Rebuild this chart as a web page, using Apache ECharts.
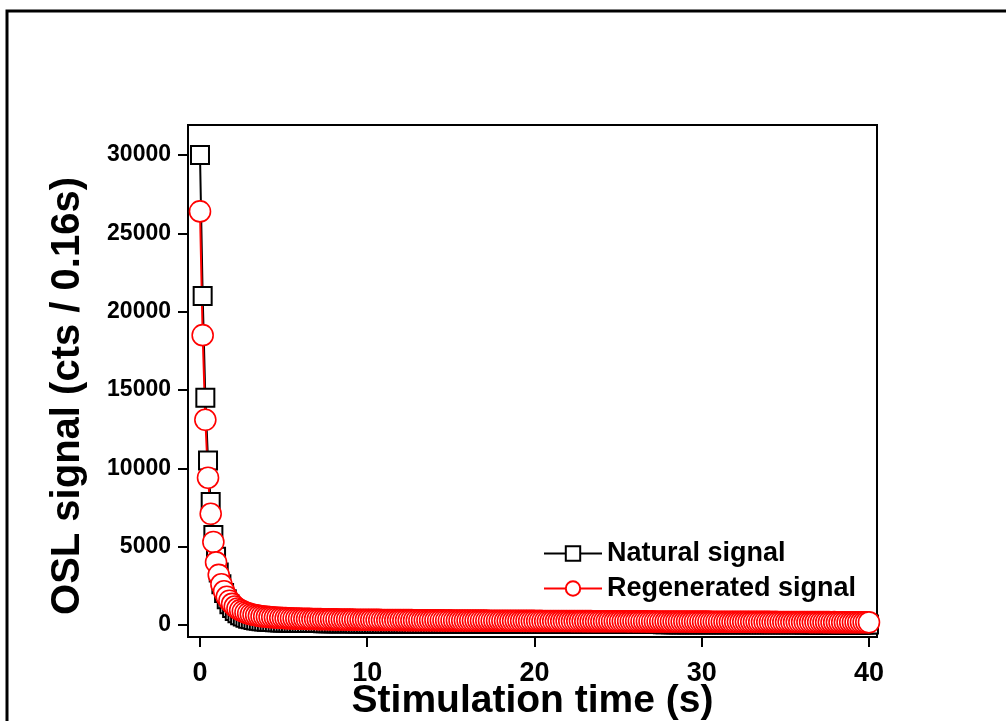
<!DOCTYPE html>
<html>
<head>
<meta charset="utf-8">
<script src="https://cdn.jsdelivr.net/npm/echarts@6/dist/echarts.min.js"></script>
<style>html,body{margin:0;padding:0;background:#fff}#c{width:1006px;height:721px}</style>
</head>
<body>
<div id="c"></div>
<script>
// Channel width of the OSL measurement (s)
const channelWidth = 0.16;
const xTicks = [0, 10, 20, 30, 40];
const yTicks = [0, 5000, 10000, 15000, 20000, 25000, 30000];
const seriesNames = ['Natural signal', 'Regenerated signal'];

const naturalSignal = [
  30000, 21000, 14500, 10500, 7850, 5750, 4350, 3350, 2600, 2050, 1650, 1330, 1090, 900, 750, 630, 540, 465, 405, 360, 320, 290, 265, 245, 228, 213, 200, 190, 181, 173,
  166, 161, 155, 152, 147, 144, 140, 138, 134, 133, 129, 128, 125, 124, 121, 121, 118, 117, 115, 115, 112, 112, 110, 109, 108, 107, 105, 106, 103, 103,
  101, 102, 100, 99, 98, 98, 96, 97, 95, 94, 94, 93, 92, 93, 91, 90, 90, 89, 89, 88, 87, 88, 86, 86, 85, 85, 84, 85, 83, 83, 82, 83, 81, 81, 80, 81, 79, 80, 79, 78,
  78, 78, 77, 78, 76, 77, 76, 75, 75, 76, 74, 75, 74, 73, 73, 74, 72, 73, 72, 71, 71, 72, 70, 71, 70, 70, 69, 70, 69, 68, 68, 69, 67, 68, 67, 67, 66, 67, 66, 65, 65, 66, 64, 65, 64, 64, 63, 64, 63, 62,
  62, 63, 62, 61, 61, 62, 60, 61, 60, 60, 59, 60, 59, 58, 58, 59, 57, 58, 57, 57, 56, 57, 56, 55, 55, 56, 54, 55, 54, 54, 53, 54, 53, 52, 52, 53, 51, 52, 51, 51, 50, 51, 50, 49, 49, 50, 48, 49, 48, 48,
  47, 48, 47, 46, 46, 47, 45, 46, 45, 45, 44, 45, 44, 43, 43, 44, 42, 43, 42, 42, 41, 42, 41, 40, 40, 41, 39, 40, 39, 39, 38, 39, 38, 37, 37, 38, 36, 37, 36, 36, 35, 36, 35, 34, 34, 35, 33, 34, 33, 33, 32
];

const regeneratedSignal = [
  26400, 18500, 13100, 9400, 7100, 5300, 4000, 3200, 2600, 2150, 1800, 1550, 1350, 1180, 1050, 950, 870, 800, 740, 690, 650, 615, 585, 560, 540, 520, 505, 490, 478, 466,
  455, 448, 436, 432, 421, 419, 409, 406, 398, 397, 389, 388, 381, 380, 374, 373, 367, 368, 361, 362, 356, 357, 350, 352, 347, 345, 343, 344, 338, 339,
  336, 335, 331, 333, 328, 327, 325, 326, 321, 322, 319, 318, 316, 317, 313, 312, 311, 310, 308, 309, 305, 306, 303, 302, 301, 300, 298, 299, 296, 295, 294, 295, 291, 292, 290, 289, 288, 287, 286, 285,
  284, 283, 282, 283, 280, 279, 278, 279, 276, 275, 275, 273, 272, 273, 270, 271, 269, 268, 267, 268, 265, 266, 264, 263, 262, 263, 260, 261, 259, 258, 258, 256, 257, 255, 254, 255, 252, 253, 251, 250, 250, 249, 248, 249, 246, 247, 245, 244, 244, 243,
  242, 243, 240, 241, 239, 238, 238, 237, 236, 237, 234, 235, 233, 232, 232, 231, 230, 231, 228, 229, 227, 226, 226, 225, 224, 225, 222, 223, 221, 220, 220, 219, 219, 218, 217, 218, 215, 216, 214, 213, 213, 212, 212, 211, 210, 211, 208, 209, 207, 206,
  206, 205, 205, 204, 203, 204, 201, 202, 200, 199, 199, 198, 198, 197, 196, 197, 194, 195, 193, 192, 192, 191, 191, 190, 189, 190, 187, 188, 186, 185, 185, 184, 184, 183, 182, 183, 180, 181, 179, 178, 178, 177, 177, 176, 175, 176, 173, 174, 172, 171, 170
];

const toPairs = arr => arr.map((v, i) => [+(i * channelWidth).toFixed(2), v]);

const FONT = '"Liberation Sans", Arial, Helvetica, sans-serif';
const chart = echarts.init(document.getElementById('c'), null, {renderer: 'canvas'});
chart.setOption({
  animation: false,
  backgroundColor: '#fff',
  graphic: [{
    type: 'rect', z: -10, silent: true,
    shape: {x: 7, y: 11, width: 1030, height: 740},
    style: {fill: 'none', stroke: '#000', lineWidth: 3}
  }],
  grid: {left: 188, right: 129, top: 125, bottom: 84, containLabel: false, outerBoundsMode: 'none',
    show: true, borderColor: '#000', borderWidth: 2, backgroundColor: 'transparent'},
  legend: {
    data: seriesNames,
    orient: 'vertical',
    left: 538, top: 535,
    itemWidth: 58, itemHeight: 18, itemGap: 8,
    textStyle: {fontFamily: FONT, fontWeight: 'bold', fontSize: 27, color: '#000'},
  },
  xAxis: {
    type: 'value', min: -0.717, max: 40.48,
    name: 'Stimulation time (s)', nameLocation: 'middle', nameGap: 45, nameMoveOverlap: false,
    nameTextStyle: {fontFamily: FONT, fontWeight: 'bold', fontSize: 39, color: '#000'},
    splitLine: {show: false},
    axisLine: {onZero: false, lineStyle: {color: '#000', width: 2}},
    axisTick: {inside: false, length: 10, lineStyle: {color: '#000', width: 2}, customValues: xTicks},
    axisLabel: {margin: 23, fontFamily: FONT, fontWeight: 'bold', fontSize: 27, color: '#000', customValues: xTicks}
  },
  yAxis: {
    type: 'value', min: -766, max: 31915,
    name: 'OSL signal (cts / 0.16s)', nameLocation: 'middle', nameGap: 100, nameMoveOverlap: false,
    nameTextStyle: {fontFamily: FONT, fontWeight: 'bold', fontSize: 40, color: '#000', padding: [0, 30, 0, 0]},
    splitLine: {show: false},
    axisLine: {show: true, onZero: false, lineStyle: {color: '#000', width: 2}},
    axisTick: {show: true, inside: false, length: 10, lineStyle: {color: '#000', width: 2}, customValues: yTicks},
    axisLabel: {margin: 17, fontFamily: FONT, fontWeight: 'bold', fontSize: 23, color: '#000', customValues: yTicks,
      formatter: v => String(v)}
  },
  series: [{
    name: seriesNames[0], type: 'line', data: toPairs(naturalSignal),
    symbol: 'rect', symbolSize: 18, showAllSymbol: true,
    lineStyle: {color: '#000', width: 2},
    itemStyle: {color: '#fff', borderColor: '#000', borderWidth: 2},
    emphasis: {disabled: true}
  }, {
    name: seriesNames[1], type: 'line', data: toPairs(regeneratedSignal),
    symbol: 'circle', symbolSize: 21, showAllSymbol: true,
    lineStyle: {color: '#ff0000', width: 2},
    itemStyle: {color: '#fff', borderColor: '#ff0000', borderWidth: 1.6},
    emphasis: {disabled: true}
  }]
});
</script>
</body>
</html>
